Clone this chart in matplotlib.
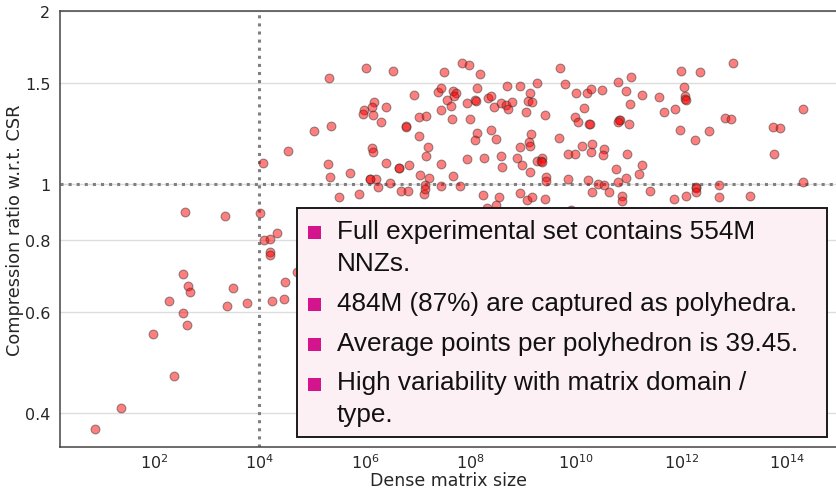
import numpy as np
import matplotlib
matplotlib.use("Agg")
import matplotlib.pyplot as plt
from matplotlib.patches import Rectangle

# ---- data ----
log10_size = [
    4.55, 4.07, 2.59, 3.34, 4.01, 4.09, 4.20, 4.33, 4.19, 4.19, 2.55, 2.64, 2.68, 3.50, 2.28, 3.38, 3.77, 4.23,
    4.46, 4.49, 4.71, 2.55, 2.63, 1.99, 2.37, 1.37, 0.89,
    5.32, 6.01, 6.53, 6.93, 6.18, 5.99, 6.13, 5.96, 6.15, 6.40, 6.30, 7.03, 7.16, 5.03, 5.35, 6.77, 6.78, 7.03,
    6.14, 6.15, 7.20, 7.15, 5.29, 6.39, 6.64, 6.65, 6.84, 5.34, 5.72, 6.09, 6.10, 6.21, 6.24, 6.47, 7.04, 7.21,
    5.51, 5.88, 6.69, 6.81, 7.14, 7.12, 7.14,
    7.83, 7.97, 7.49, 8.18, 9.69, 9.80, 7.38, 7.44, 7.66, 7.72, 7.68, 7.56, 7.64, 8.12, 7.94, 8.09, 8.10, 8.33,
    8.39, 8.45, 8.58, 8.69, 8.67, 8.72, 8.79, 8.93, 9.26, 9.12, 9.10, 9.16, 9.06, 9.41, 7.45, 7.65, 8.00, 8.13,
    8.08, 8.39, 8.48, 7.94, 8.25, 8.57, 8.60, 7.44, 8.93, 9.14, 9.11, 9.13, 8.88, 8.98, 9.27, 9.35, 9.34, 9.35,
    9.13, 9.68, 7.67, 7.81, 7.44, 8.23, 8.54, 8.31, 8.48, 8.94, 9.08, 9.16, 9.41, 9.43, 9.44,
    10.01, 10.20, 10.28, 10.49, 10.80, 11.05, 10.95, 11.25, 11.02, 11.57, 11.99, 12.04, 12.06, 12.07, 12.08,
    12.36, 10.16, 9.98, 10.04, 10.25, 10.26, 10.82, 10.83, 10.80, 11.00, 11.67, 11.88, 11.97, 12.26, 10.11,
    10.31, 10.29, 10.53, 10.51, 9.84, 9.98, 10.97, 10.75, 11.25, 11.19, 10.94, 10.80, 9.84, 10.23, 10.41,
    10.53, 10.31, 10.63, 10.87, 10.87, 11.40, 11.85, 12.09, 12.27, 12.28, 12.27, 9.90,
    12.98, 12.82, 12.93, 12.52, 13.73, 13.87, 14.31, 13.75, 12.72, 12.72, 13.30, 14.30,
]
ratio = [
    1.140, 1.088, 0.893, 0.880, 0.892, 0.799, 0.804, 0.822, 0.762, 0.754, 0.697, 0.666, 0.649, 0.659, 0.626,
    0.615, 0.621, 0.626, 0.630, 0.675, 0.703, 0.598, 0.569, 0.549, 0.464, 0.408, 0.375,
    1.528, 1.589, 1.574, 1.430, 1.392, 1.348, 1.362, 1.323, 1.320, 1.360, 1.284, 1.309, 1.314, 1.239, 1.261,
    1.261, 1.258, 1.211, 1.154, 1.137, 1.159, 1.117, 1.083, 1.089, 1.068, 1.066, 1.079, 1.028, 1.047, 1.022,
    1.020, 1.022, 0.989, 1.005, 1.039, 1.025, 0.948, 0.962, 0.974, 0.974, 0.995, 0.963, 0.980,
    1.627, 1.608, 1.568, 1.557, 1.593, 1.491, 1.447, 1.468, 1.450, 1.441, 1.422, 1.399, 1.368, 1.470, 1.386,
    1.399, 1.396, 1.410, 1.424, 1.359, 1.386, 1.480, 1.374, 1.349, 1.392, 1.482, 1.500, 1.441, 1.393, 1.390,
    1.335, 1.317, 1.344, 1.298, 1.300, 1.228, 1.192, 1.244, 1.200, 1.106, 1.112, 1.118, 1.073, 1.086, 1.162,
    1.223, 1.184, 1.164, 1.108, 1.081, 1.097, 1.111, 1.096, 1.094, 1.051, 1.203, 1.032, 0.993, 0.994, 0.956,
    0.951, 0.909, 0.919, 0.964, 0.937, 0.951, 0.942, 1.029, 1.011,
    1.439, 1.441, 1.466, 1.456, 1.504, 1.534, 1.450, 1.430, 1.377, 1.418, 1.574, 1.474, 1.422, 1.405, 1.402,
    1.565, 1.357, 1.310, 1.283, 1.274, 1.271, 1.295, 1.292, 1.283, 1.273, 1.335, 1.353, 1.244, 1.193, 1.167,
    1.175, 1.136, 1.153, 1.122, 1.129, 1.129, 1.129, 1.063, 1.080, 1.042, 1.025, 1.009, 1.019, 1.018, 1.002,
    0.995, 0.969, 0.969, 0.954, 0.933, 0.974, 0.941, 0.954, 0.989, 0.986, 0.968, 0.902,
    1.627, 1.305, 1.300, 1.237, 1.259, 1.254, 1.349, 1.130, 0.995, 0.950, 0.955, 1.010,
]
y_ticks = [0.4, 0.6, 0.8, 1, 1.5, 2]
y_tick_labels = ["0.4", "0.6", "0.8", "1", "1.5", "2"]
x_tick_exponents = [2, 4, 6, 8, 10, 12, 14]
ref_size = 1e4
ref_ratio = 1.0
bullets = [
    ["Full experimental set contains 554M", "NNZs."],
    ["484M (87%) are captured as polyhedra."],
    ["Average points per polyhedron is 39.45."],
    ["High variability with matrix domain /", "type."],
]

W, H = 836, 489
fig = plt.figure(figsize=(W / 100, H / 100), dpi=100)
ax = fig.add_axes([60 / W, 1 - 448 / H, 1 - 60 / W, (448 - 12) / H])

size = 10 ** np.array(log10_size)
ax.scatter(size, ratio, s=40, c="red", alpha=0.5, edgecolors="#333333",
           linewidths=0.8, zorder=3)

ax.set_xscale("log")
ax.set_yscale("log")
ax.set_xlim(10 ** 0.218, 10 ** 14.93)
ax.set_ylim(0.349, 2.0)

ax.axvline(ref_size, color="#808080", linestyle=":", linewidth=2.2, zorder=2)
ax.axhline(ref_ratio, color="#808080", linestyle=":", linewidth=2.2, zorder=2)

ax.yaxis.set_major_locator(matplotlib.ticker.FixedLocator(y_ticks))
ax.yaxis.set_major_formatter(matplotlib.ticker.FixedFormatter(y_tick_labels))
ax.yaxis.set_minor_locator(matplotlib.ticker.NullLocator())
ax.xaxis.set_major_locator(matplotlib.ticker.FixedLocator([10.0 ** e for e in x_tick_exponents]))
ax.xaxis.set_major_formatter(matplotlib.ticker.FixedFormatter([rf"$10^{{{e}}}$" for e in x_tick_exponents]))
ax.xaxis.set_minor_locator(matplotlib.ticker.NullLocator())
ax.tick_params(axis="y", length=0, labelsize=11.5, labelcolor="#262626", pad=7)
ax.tick_params(axis="x", length=0, labelsize=11.5, labelcolor="#262626", pad=4)

ax.grid(axis="y", color="#dddddd", linewidth=1.0, zorder=0)
ax.grid(axis="x", visible=False)
ax.set_axisbelow(True)

for side in ["left", "bottom", "top"]:
    ax.spines[side].set_color("#444444")
    ax.spines[side].set_linewidth(1.1)
ax.spines["right"].set_visible(False)

ax.set_ylabel("Compression ratio w.r.t. CSR", fontsize=12.8, color="#262626")
ax.yaxis.set_label_coords((24 - 60) / (W - 60), 0.5)
ax.set_xlabel("Dense matrix size", fontsize=12.5, color="#262626")
ax.xaxis.set_label_coords(0.5, -(472 - 448) / (448 - 12))
ax.xaxis.label.set_va("top")

# ---- annotation box ----
bx0, by0, bx1, by1 = 297, 209, 827, 438
box = Rectangle((bx0 / W, 1 - by1 / H), (bx1 - bx0) / W, (by1 - by0) / H,
                transform=fig.transFigure, facecolor="#fdf0f5", edgecolor="#1a1a1a",
                linewidth=1.4, zorder=5)
fig.add_artist(box)

baselines = [[239, 271], [311], [350.5], [390.5, 422]]
for lines, bl in zip(bullets, baselines):
    sq_top = bl[0] - 12
    fig.add_artist(Rectangle((308 / W, 1 - (sq_top + 13) / H), 13 / W, 13 / H,
                             transform=fig.transFigure, facecolor="#d4148c",
                             edgecolor="none", zorder=6))
    for line, b in zip(lines, bl):
        fig.text(337 / W, 1 - b / H, line, fontsize=18.8, family="Liberation Sans",
                 color="#111111", va="baseline", ha="left", zorder=7)

fig.savefig("out.png", dpi=100)
